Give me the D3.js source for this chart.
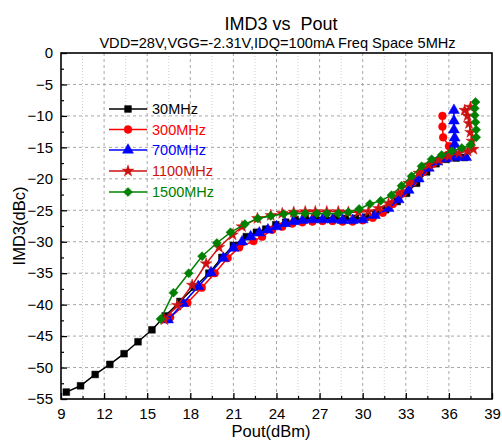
<!DOCTYPE html>
<html><head><meta charset="utf-8">
<script src="https://cdn.jsdelivr.net/npm/d3@7"></script>
<style>html,body{margin:0;padding:0;background:#fff;}svg{display:block;font-family:"Liberation Sans",Arial,Helvetica,sans-serif;}</style>
</head><body>
<svg id="chart" width="502" height="441"></svg>
<script>
// ---- data ----
const seriesNames = ["30MHz","300MHz","700MHz","1100MHz","1500MHz"];
const pout30 = [9.37,10.36,11.38,12.4,13.39,14.36,15.33,16.25,17.28,18.3,19.3,20.2,21.0,21.9,22.6,23.25,23.95,24.64,25.3,26.0,26.7,27.4,28.1,28.8,29.5,30.2,30.9,31.6,32.4,33.05,33.75,34.45,35.1,35.8,36.5,37.1];
const imd30  = [-53.9,-52.9,-51.1,-49.5,-47.8,-45.9,-44.0,-41.8,-39.5,-37.2,-35.0,-32.5,-30.6,-29.2,-28.5,-28.0,-27.3,-26.9,-26.5,-26.3,-26.2,-26.2,-26.2,-26.3,-26.3,-26.1,-25.6,-24.9,-23.6,-22.3,-20.7,-18.9,-17.6,-16.9,-16.7,-16.6];
const pout300 = [16.6,17.8,18.8,19.7,20.6,21.4,22.4,23.0,23.7,24.4,25.1,25.8,26.5,27.2,27.9,28.6,29.3,30.0,30.7,31.4,32.1,32.8,33.5,34.2,34.9,35.5,35.9,36.0,35.6,35.55,35.55];
const imd300  = [-42.0,-39.7,-37.3,-35.0,-32.6,-30.9,-29.9,-29.2,-28.1,-27.6,-27.1,-26.9,-26.8,-26.7,-26.7,-26.8,-26.8,-26.6,-26.2,-25.4,-24.0,-22.3,-20.5,-18.9,-17.6,-16.8,-16.2,-14.8,-13.4,-11.7,-10.0];
const pout700 = [16.45,17.5,18.55,19.44,20.3,21.0,21.6,22.2,22.8,23.4,24.0,24.6,25.2,25.8,26.5,27.2,27.9,28.6,29.3,30.0,30.85,31.8,32.5,33.2,33.9,34.6,35.2,35.8,36.5,37.2,36.4,36.4,36.4,36.35,36.35,36.35];
const imd700  = [-42.4,-39.8,-37.1,-34.9,-32.6,-31.0,-30.0,-29.2,-28.6,-28.1,-27.6,-27.1,-26.8,-26.6,-26.5,-26.5,-26.5,-26.6,-26.6,-26.5,-25.8,-24.7,-23.3,-21.8,-20.0,-18.3,-17.3,-16.8,-16.6,-16.6,-16.0,-14.5,-13.5,-12.2,-10.8,-9.1];
const pout1100 = [16.2,17.1,18.13,19.1,20.0,20.94,21.6,22.67,23.6,24.4,25.2,26.0,26.7,27.5,28.3,29.0,29.7,30.4,31.1,31.8,32.5,33.2,33.9,34.6,35.3,36.0,36.7,37.3,37.7,37.6,37.5,37.4,37.3,37.1,37.5];
const imd1100  = [-42.4,-40.1,-36.9,-33.5,-30.9,-28.9,-27.6,-26.3,-25.8,-25.5,-25.3,-25.2,-25.2,-25.2,-25.2,-25.3,-25.3,-25.2,-24.7,-23.9,-22.3,-20.7,-19.1,-17.8,-17.0,-16.4,-15.9,-15.6,-15.3,-14.0,-12.6,-11.2,-10.0,-9.1,-8.6];
const pout1500 = [15.93,16.83,17.89,18.82,19.85,20.8,21.8,22.7,23.6,24.5,25.2,26.0,26.8,27.5,28.3,29.0,29.75,30.5,31.25,32.0,32.7,33.4,34.1,34.8,35.5,36.2,36.9,37.5,37.9,37.9,37.85,37.8,37.8,37.85];
const imd1500  = [-42.3,-38.1,-35.0,-32.3,-30.2,-28.5,-27.2,-26.3,-25.9,-25.6,-25.5,-25.5,-25.5,-25.5,-25.5,-25.3,-24.8,-24.0,-23.5,-22.6,-21.1,-19.6,-18.0,-16.9,-16.2,-15.6,-15.1,-14.6,-13.4,-12.2,-11.0,-9.9,-8.8,-7.8];
const xTicks = [9,12,15,18,21,24,27,30,33,36,39];
const yTicks = [-55,-50,-45,-40,-35,-30,-25,-20,-15,-10,-5,0];
const titleText = "IMD3 vs  Pout";
const subtitleText = "VDD=28V,VGG=-2.31V,IDQ=100mA Freq Space 5MHz";
const xLabel = "Pout(dBm)";
const yLabel = "IMD3(dBc)";

// ---- styles ----
const colors = ["#000000","#ff0000","#0000ff","#cc1111","#008000"];
const symbols = [d3.symbolSquare, d3.symbolCircle, d3.symbolTriangle, d3.symbolStar, d3.symbolDiamond2];
const sizes = [46, 48, 52, 42, 52];
const xs = [pout30,pout300,pout700,pout1100,pout1500];
const ys = [imd30,imd300,imd700,imd1100,imd1500];

const L = 61, R = 492, T = 53, B = 399;
const svg = d3.select("#chart");
const x = d3.scaleLinear().domain([9,39]).range([L,R]);
const y = d3.scaleLinear().domain([-55,0]).range([B,T]);

// grid
const g = svg.append("g");
const vGrid = d3.range(10.5, 39, 1.5);
vGrid.forEach(v => {
  const major = Math.abs(v/3 - Math.round(v/3)) < 1e-6;
  g.append("line").attr("x1",x(v)).attr("x2",x(v)).attr("y1",T).attr("y2",B)
    .attr("stroke", major ? "#a8a8a8" : "#cfcfcf").attr("stroke-width",1)
    .attr("stroke-dasharray", major ? "3,3" : "1,2");
});
yTicks.filter(v => v > -55 && v < 0).forEach(v => {
  g.append("line").attr("x1",L).attr("x2",R).attr("y1",y(v)).attr("y2",y(v))
    .attr("stroke","#a8a8a8").attr("stroke-width",1).attr("stroke-dasharray","3,3");
});

// axes
const xAxis = d3.axisBottom(x).tickValues(xTicks).tickSize(-6).tickPadding(9).tickFormat(d3.format("d"));
const yAxis = d3.axisLeft(y).tickValues(yTicks).tickSize(-6).tickPadding(8).tickFormat(d3.format("d"));
const gx = svg.append("g").attr("transform",`translate(0,${B})`).call(xAxis);
const gy = svg.append("g").attr("transform",`translate(${L},0)`).call(yAxis);
[gx,gy].forEach(a => {
  a.select(".domain").remove();
  a.selectAll("line").attr("stroke","#000").attr("stroke-width",1.3);
  a.selectAll("text").attr("font-size",15).attr("fill","#000").attr("font-family","Liberation Sans, Arial, sans-serif");
});
// minor ticks
const xMinor = d3.axisBottom(x).tickValues(d3.range(10.5,39,3)).tickSize(-3).tickFormat("");
const yMinor = d3.axisLeft(y).tickValues(d3.range(-52.5,0,5)).tickSize(-3).tickFormat("");
const gxm = svg.append("g").attr("transform",`translate(0,${B})`).call(xMinor);
const gym = svg.append("g").attr("transform",`translate(${L},0)`).call(yMinor);
[gxm,gym].forEach(a => { a.select(".domain").remove(); a.selectAll("line").attr("stroke","#000").attr("stroke-width",1.2); });

// frame
svg.append("rect").attr("x",L).attr("y",T).attr("width",R-L).attr("height",B-T)
  .attr("fill","none").attr("stroke","#000").attr("stroke-width",1.6);

// series
const line = d3.line().x(d=>x(d[0])).y(d=>y(d[1]));
xs.forEach((xa,i) => {
  const pts = xa.map((v,j)=>[v, ys[i][j]]);
  const sg = svg.append("g");
  sg.append("path").attr("d", line(pts)).attr("fill","none").attr("stroke",colors[i]).attr("stroke-width",1.5);
  sg.selectAll("path.m").data(pts).enter().append("path").attr("class","m")
    .attr("d", d3.symbol().type(symbols[i]).size(sizes[i]))
    .attr("transform", d=>`translate(${x(d[0])},${y(d[1])})`)
    .attr("fill", colors[i]).attr("stroke", colors[i]).attr("stroke-width",0.5);
});

// legend
const legY = [109,129.5,150,171,192];
seriesNames.forEach((n,i) => {
  const lg = svg.append("g");
  lg.append("line").attr("x1",109).attr("x2",147).attr("y1",legY[i]).attr("y2",legY[i])
    .attr("stroke",colors[i]).attr("stroke-width",1.5);
  lg.append("path").attr("d", d3.symbol().type(symbols[i]).size(sizes[i]))
    .attr("transform",`translate(128,${legY[i]})`).attr("fill",colors[i]).attr("stroke",colors[i]).attr("stroke-width",0.5);
  lg.append("text").attr("x",152).attr("y",legY[i]).attr("dy","0.36em")
    .attr("font-size",14.5).attr("fill",colors[i]).text(n);
});

// titles
svg.append("text").attr("x",281).attr("y",30).attr("text-anchor","middle").attr("font-size",18)
  .attr("fill","#000").style("white-space","pre").attr("xml:space","preserve").text(titleText);
svg.append("text").attr("x",277.5).attr("y",48).attr("text-anchor","middle").attr("font-size",14.6).attr("fill","#000").text(subtitleText);
svg.append("text").attr("x",271).attr("y",437).attr("text-anchor","middle").attr("font-size",16.5).attr("fill","#000").text(xLabel);
svg.append("text").attr("transform","translate(25,226) rotate(-90)").attr("text-anchor","middle").attr("font-size",16.5).attr("fill","#000").text(yLabel);
</script>
</body></html>
